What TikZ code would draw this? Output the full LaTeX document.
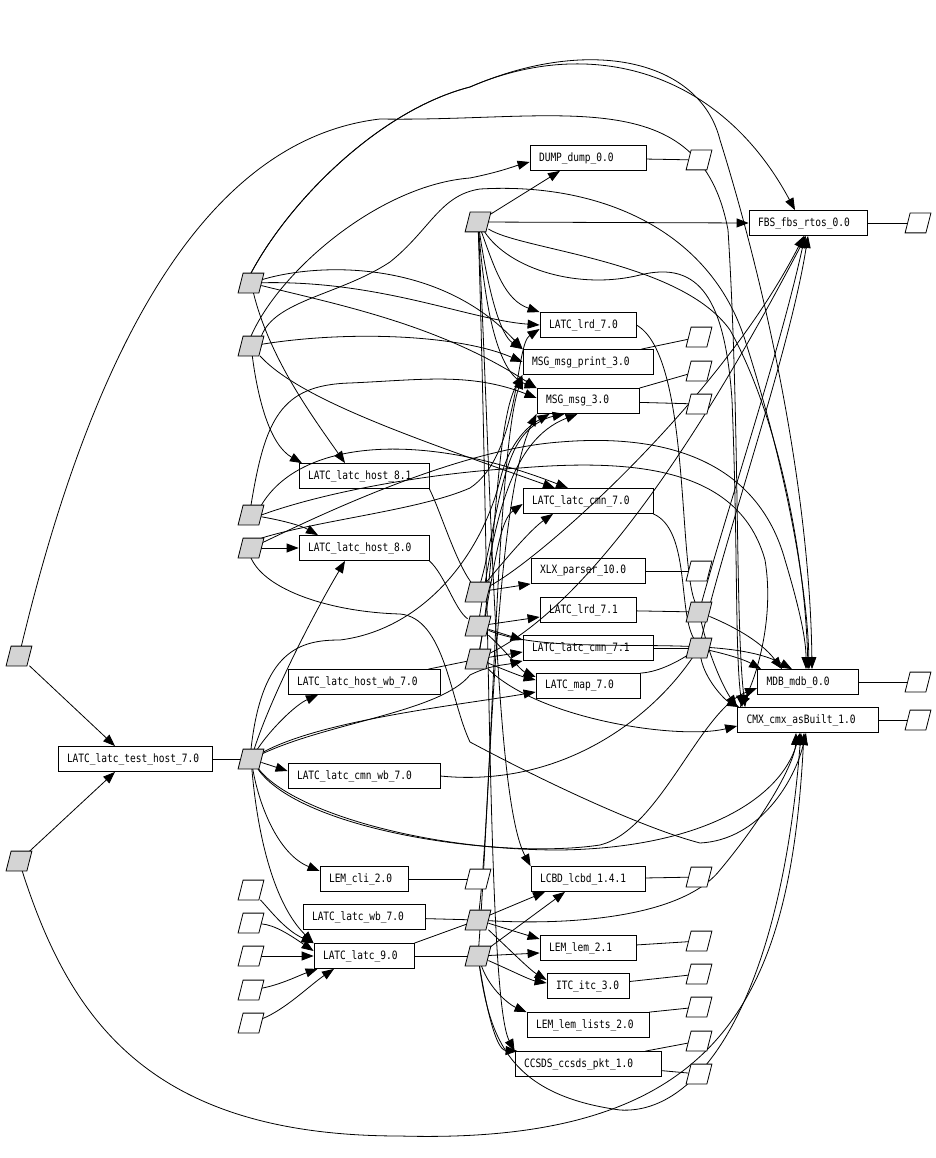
\documentclass[tikz,border=0pt]{standalone}
\usepackage{fontspec}
\newfontfamily\lblfont[FakeStretch=0.83]{DejaVu Sans Mono}
\usetikzlibrary{arrows.meta}
\begin{document}
\begin{tikzpicture}[x=1pt,y=-1pt,line width=0.8pt,
  every node/.style={font=\lblfont\fontsize{11.5}{13}\selectfont},
  pkg/.style={draw, rectangle, minimum height=25pt, inner sep=0pt, line width=0.8pt,
              minimum width=#1, text width=\dimexpr#1-18pt\relax, align=left},
  gp/.style={rectangle, minimum width=20pt, minimum height=19pt, inner sep=0pt},
  wp/.style={gp},
  parag/.style={line width=0.8pt, draw=black},
  dep/.style={-{Triangle[length=12pt,width=9pt]}}]
\fill[white] (0,0) rectangle (936,1158);
\useasboundingbox (0,0) rectangle (936,1158);

% packages
\node[pkg=154pt] (test) at (135,759) {LATC\_latc\_test\_host\_7.0};
\node[pkg=116pt] (dump) at (588,158) {DUMP\_dump\_0.0};
\node[pkg=118pt] (fbs) at (808,223) {FBS\_fbs\_rtos\_0.0};
\node[pkg=96pt] (lrd70) at (588,325) {LATC\_lrd\_7.0};
\node[pkg=130pt] (msgp) at (588,362) {MSG\_msg\_print\_3.0};
\node[pkg=102pt] (msg) at (588,401) {MSG\_msg\_3.0};
\node[pkg=130pt] (h81) at (364,476) {LATC\_latc\_host\_8.1};
\node[pkg=130pt] (h80) at (364,548) {LATC\_latc\_host\_8.0};
\node[pkg=130pt] (cmn70) at (588,501) {LATC\_latc\_cmn\_7.0};
\node[pkg=114pt] (xlx) at (588,571) {XLX\_parser\_10.0};
\node[pkg=96pt] (lrd71) at (588,610) {LATC\_lrd\_7.1};
\node[pkg=130pt] (cmn71) at (588,648) {LATC\_latc\_cmn\_7.1};
\node[pkg=104pt] (map) at (588,686) {LATC\_map\_7.0};
\node[pkg=101pt] (mdb) at (808,682) {MDB\_mdb\_0.0};
\node[pkg=141pt] (cmx) at (808,720) {CMX\_cmx\_asBuilt\_1.0};
\node[pkg=152pt] (hwb) at (364,682) {LATC\_latc\_host\_wb\_7.0};
\node[pkg=152pt] (cwb) at (364,776) {LATC\_latc\_cmn\_wb\_7.0};
\node[pkg=88pt] (cli) at (364,879) {LEM\_cli\_2.0};
\node[pkg=122pt] (lwb) at (364,917) {LATC\_latc\_wb\_7.0};
\node[pkg=100pt] (l9) at (364,956) {LATC\_latc\_9.0};
\node[pkg=114pt] (lcbd) at (588,879) {LCBD\_lcbd\_1.4.1};
\node[pkg=96pt] (lem) at (588,948) {LEM\_lem\_2.1};
\node[pkg=82pt] (itc) at (588,986) {ITC\_itc\_3.0};
\node[pkg=122pt] (lists) at (588,1025) {LEM\_lem\_lists\_2.0};
\node[pkg=146pt] (ccsds) at (588,1064) {CCSDS\_ccsds\_pkt\_1.0};

% grey constituents
\node[gp] (gL1) at (19,656) {};
\node[gp] (gL2) at (19,861) {};
\node[gp] (ga) at (251,283) {};
\node[gp] (gb) at (251,346) {};
\node[gp] (gc) at (251,515) {};
\node[gp] (gd) at (251,548) {};
\node[gp] (ge) at (251,759) {};
\node[gp] (gf) at (478,222) {};
\node[gp] (gg) at (478,592) {};
\node[gp] (gh) at (478,626) {};
\node[gp] (gi) at (478,659) {};
\node[gp] (gj) at (699,612) {};
\node[gp] (gk) at (699,648) {};
\node[gp] (gl) at (478,920) {};
\node[gp] (gm) at (478,956) {};

% white constituents
\node[wp] (wd) at (699,160) {};
\node[wp] (wf) at (918,223) {};
\node[wp] (w1) at (699,337) {};
\node[wp] (w2) at (699,371) {};
\node[wp] (w3) at (699,404) {};
\node[wp] (wx) at (699,571) {};
\node[wp] (wm) at (918,682) {};
\node[wp] (wc) at (918,720) {};
\node[wp] (wcli) at (478,879) {};
\node[wp] (wl) at (699,877) {};
\node[wp] (wlem) at (699,941) {};
\node[wp] (witc) at (699,974) {};
\node[wp] (wli) at (699,1007) {};
\node[wp] (wc1) at (699,1041) {};
\node[wp] (wc2) at (699,1074) {};
\node[wp] (wL1) at (251,890) {};
\node[wp] (wL2) at (251,923) {};
\node[wp] (wL3) at (251,956) {};
\node[wp] (wL4) at (251,990) {};
\node[wp] (wL5) at (251,1023) {};

% ownership lines
\draw (test) -- (ge);
\draw (dump) -- (wd);
\draw (fbs) -- (wf);
\draw ([xshift=-12pt]msgp.north east) -- (w1);
\draw (msg.north east) -- (w2);
\draw (msg) -- (w3);
\draw (xlx) -- (wx);
\draw (lrd71) -- (gj);
\draw (cmn71) -- (gk);
\draw (mdb) -- (wm);
\draw (cmx) -- (wc);
\draw ([xshift=-12pt]hwb.north east) -- (gi);
\draw (cli) -- (wcli);
\draw (lwb) -- (gl);
\draw (l9) -- (gm);
\draw (l9.north east) -- (gl);
\draw (lcbd) -- (wl);
\draw (lem) -- (wlem);
\draw (itc) -- (witc);
\draw (lists.north east) -- (wli);
\draw ([xshift=-16pt]ccsds.north east) -- (wc1);
\draw (ccsds) -- (wc2);
\draw (cwb.east) .. controls (560,788) and (650,720) .. (gk);
\draw (h81.south east) .. controls (440,510) and (455,560) .. (gg);
\draw (h80.south east) .. controls (445,575) and (455,610) .. (gh);
\draw (lrd70.east) .. controls (690,355) and (678,560) .. (gj);
\draw (cmn70.south east) .. controls (690,530) and (678,610) .. (gk);
\draw (map.north east) .. controls (660,672) and (680,660) .. (gk);

% gL1, gL2
\draw[dep] (gL1) -- ([xshift=-20pt]test.north);
\draw[dep] (gL1) .. controls (90,360) and (200,140) .. (380,119) .. controls (560,122) and (700,80) .. (728,230) .. controls (740,420) and (735,620) .. ([xshift=8pt]cmx.north west);
\draw[dep] (gL2) -- ([xshift=-20pt]test.south);
\draw[dep] (gL2) .. controls (70,1020) and (150,1136) .. (400,1136) .. controls (720,1145) and (790,1000) .. ([xshift=-4pt]cmx.south);

% ga
\draw[dep] (ga) .. controls (270,360) and (315,420) .. ([xshift=-19pt]h81.north);
\draw[dep] (ga) .. controls (320,262) and (440,260) .. (msgp.north west);
\draw[dep] (ga) .. controls (340,305) and (440,325) .. (msg.north west);
\draw[dep] (ga) .. controls (380,280) and (470,320) .. (lrd70.west);
\draw[dep] (ga.north) .. controls (290,200) and (380,110) .. (470,87) .. controls (590,35) and (720,70) .. ([xshift=-13pt]fbs.north);
\draw[dep] (ga.north) .. controls (290,200) and (380,110) .. (470,87) .. controls (590,35) and (700,60) .. (720,140) .. controls (770,300) and (810,500) .. ([xshift=4pt]mdb.north);

% gb
\draw[dep] (gb) .. controls (258,400) and (270,445) .. ([xshift=-62pt]h81.north);
\draw[dep] (gb.north) .. controls (280,270) and (380,185) .. (470,178) .. controls (500,172) and (515,166) .. ([yshift=-4pt]dump.west);
\draw[dep] (gb.north east) .. controls (275,300) and (340,295) .. (390,262) .. controls (430,230) and (440,195) .. (480,189) .. controls (600,182) and (710,230) .. (745,340) .. controls (790,480) and (808,600) .. ([xshift=1pt]mdb.north);
\draw[dep] (gb) .. controls (350,330) and (460,335) .. (msgp.west);
\draw[dep] (gb) .. controls (300,400) and (420,440) .. ([xshift=-33pt]cmn70.north);

% gc
\draw[dep] (gc) .. controls (280,520) and (300,525) .. ([xshift=-46pt]h80.north);
\draw[dep] (gc.north) .. controls (265,420) and (280,385) .. (350,383) .. controls (420,380) and (470,372) .. ([yshift=3pt]msg.west);
\draw[dep] (gc.north east) .. controls (300,440) and (420,430) .. ([xshift=-20pt]cmn70.north);
\draw[dep] (gc.east) .. controls (330,490) and (440,472) .. (520,468) .. controls (640,458) and (740,470) .. (765,560) .. controls (775,620) and (755,680) .. ([xshift=3pt]cmx.north west);

% gd
\draw[dep] (gd) -- (h80.west);
\draw[dep] (gd.north east) .. controls (320,520) and (420,510) .. (470,488) .. controls (520,455) and (515,345) .. ([yshift=-4pt]lrd70.west);
\draw[dep] (gd) .. controls (300,525) and (450,450) .. (560,442) .. controls (680,432) and (760,470) .. (785,560) .. controls (800,610) and (806,640) .. ([xshift=-2pt]mdb.north);
\draw[dep] (gd.south) .. controls (265,590) and (330,612) .. (400,614) .. controls (445,618) and (450,700) .. (470,742) .. controls (560,790) and (650,830) .. (700,843) .. controls (760,840) and (795,780) .. ([xshift=-2pt]cmx.south);

% ge
\draw[dep] (ge) .. controls (270,700) and (310,620) .. ([xshift=-19pt]h80.south);
\draw[dep] (ge) .. controls (270,730) and (295,705) .. ([xshift=-46pt]hwb.south);
\draw[dep] (ge) -- ([yshift=5pt]cwb.west);
\draw[dep] (ge) .. controls (260,810) and (280,855) .. ([yshift=8pt]cli.west);
\draw[dep] (ge) .. controls (258,840) and (275,905) .. (l9.north west);
\draw[dep] (ge) .. controls (320,720) and (460,705) .. ([yshift=-6pt]map.west);
\draw[dep] (ge.north) .. controls (262,650) and (300,640) .. (340,640) .. controls (420,630) and (480,560) .. (500,480) .. controls (510,440) and (530,425) .. ([xshift=13pt]msg.south west);
\draw[dep] (ge) .. controls (330,722) and (440,712) .. (470,675) .. controls (490,665) and (505,665) .. (cmn71.south west);
\draw[dep] (ge) .. controls (290,810) and (420,850) .. (560,850) .. controls (700,848) and (780,800) .. ([xshift=-8pt]cmx.south);
\draw[dep] (ge) .. controls (300,830) and (500,860) .. (600,845) .. controls (660,830) and (700,710) .. ([yshift=-6pt]mdb.west);

% gf
\draw[dep] (gf) -- (fbs.west);
\draw[dep] (gf) -- ([xshift=-28pt]dump.south);
\draw[dep] (gf) .. controls (495,270) and (505,300) .. (lrd70.north west);
\draw[dep] (gf) .. controls (488,290) and (500,335) .. (msgp.north west);
\draw[dep] (gf) .. controls (486,320) and (500,375) .. (msg.north west);
\draw[dep] (gf) .. controls (492,500) and (495,800) .. (lcbd.north west);
\draw[dep] (gf) .. controls (490,600) and (488,1000) .. (ccsds.north west);
\draw[dep] (gf) .. controls (520,250) and (680,260) .. (730,330) .. controls (780,420) and (805,560) .. (mdb.north);
\draw[dep] (gf) .. controls (510,270) and (580,290) .. (640,275) .. controls (700,260) and (725,300) .. (732,400) .. controls (738,550) and (735,650) .. ([xshift=5pt]cmx.north west);

% gg
\draw[dep] (gg) -- (xlx.south west);
\draw[dep] (gg) .. controls (495,530) and (500,470) .. (520,440) .. controls (530,425) and (545,418) .. ([xshift=28pt]msg.south west);
\draw[dep] (gg) .. controls (540,560) and (720,400) .. ([xshift=-4pt]fbs.south);
\draw[dep] (gg) .. controls (505,560) and (530,530) .. ([xshift=-35pt]cmn70.south);

% gh
\draw[dep] (gh) -- ([yshift=-7pt]lrd71.west);
\draw[dep] (gh) -- ([yshift=8pt]cmn71.west);
\draw[dep] (gh) .. controls (505,650) and (520,670) .. ([yshift=9pt]map.west);
\draw[dep] (gh) .. controls (495,520) and (510,440) .. ([xshift=41pt]msg.south west);
\draw[dep] (gh) .. controls (560,660) and (720,630) .. ([xshift=-16pt]mdb.north);

% gi
\draw[dep] (gi) -- ([yshift=-4pt]cmn71.west);
\draw[dep] (gi) .. controls (505,670) and (520,676) .. ([yshift=6pt]map.west);
\draw[dep] (gi) .. controls (496,560) and (496,420) .. (msgp.south west);
\draw[dep] (gi) .. controls (540,720) and (680,740) .. ([yshift=-6pt]cmx.west);
\draw[dep] (gi) .. controls (600,600) and (720,400) .. ([xshift=-2pt]fbs.south);
\draw[dep] (gi) .. controls (495,560) and (500,520) .. ([yshift=-3pt]cmn70.west);

% gj, gk
\draw[dep] (gj) .. controls (730,625) and (760,640) .. ([xshift=-26pt]mdb.north);
\draw[dep] (gj) .. controls (730,500) and (780,350) .. ([xshift=-3pt]fbs.south);
\draw[dep] (gj) .. controls (710,660) and (725,690) .. (cmx.north west);
\draw[dep] (gk) .. controls (730,655) and (745,660) .. ([xshift=4pt]mdb.north west);
\draw[dep] (gk) .. controls (705,680) and (725,700) .. ([xshift=2pt]cmx.north west);
\draw[dep] (gk) .. controls (730,520) and (790,350) .. (fbs.south);

% gl
\draw[dep] (gl) -- ([xshift=-43pt]lcbd.south);
\draw[dep] (gl) -- ([yshift=9pt]lem.west);
\draw[dep] (gl) .. controls (510,950) and (530,970) .. ([yshift=6pt]itc.west);
\draw[dep] (gl) .. controls (560,925) and (680,920) .. (720,870) .. controls (770,810) and (795,760) .. ([xshift=-12pt]cmx.south);
\draw[dep] (gl) .. controls (492,800) and (497,450) .. ([yshift=-2pt]msgp.south west);

% gm
\draw[dep] (gm) -- ([xshift=-23pt]lcbd.south);
\draw[dep] (gm) -- ([yshift=-5pt]lem.west);
\draw[dep] (gm) .. controls (510,970) and (530,980) .. ([yshift=3pt]itc.west);
\draw[dep] (gm) .. controls (490,990) and (510,1005) .. (lists.north west);
\draw[dep] (gm) .. controls (485,1000) and (495,1050) .. ([xshift=3pt]ccsds.north west);
\draw[dep] (gm) .. controls (490,1040) and (510,1095) .. (620,1110) .. controls (700,1115) and (780,1000) .. ([xshift=-7pt]cmx.south);
\draw[dep] (gm) .. controls (490,800) and (495,500) .. (msg.south west);

% leaf inputs of latc_9
\draw[dep] (wL1) .. controls (270,910) and (285,930) .. (l9.north west);
\draw[dep] (wL2) .. controls (275,925) and (290,935) .. ([yshift=5pt]l9.west);
\draw[dep] (wL3) -- (l9.west);
\draw[dep] (wL4) .. controls (280,985) and (300,975) .. ([xshift=4pt]l9.south west);
\draw[dep] (wL5) .. controls (285,1010) and (310,985) .. ([xshift=-30pt]l9.south);

% parallelogram outlines
\foreach \n in {gL1,gL2,ga,gb,gc,gd,ge,gf,gg,gh,gi,gj,gk,gl,gm}{
  \filldraw[parag, fill=black!17] ([xshift=-2.5pt]\n.south west) -- ([xshift=-2.5pt]\n.south east) -- ([xshift=2.5pt]\n.north east) -- ([xshift=2.5pt]\n.north west) -- cycle;}
\foreach \n in {wd,wf,w1,w2,w3,wx,wm,wc,wcli,wl,wlem,witc,wli,wc1,wc2,wL1,wL2,wL3,wL4,wL5}{
  \filldraw[parag, fill=white] ([xshift=-2.5pt]\n.south west) -- ([xshift=-2.5pt]\n.south east) -- ([xshift=2.5pt]\n.north east) -- ([xshift=2.5pt]\n.north west) -- cycle;}
\end{tikzpicture}
\end{document}
